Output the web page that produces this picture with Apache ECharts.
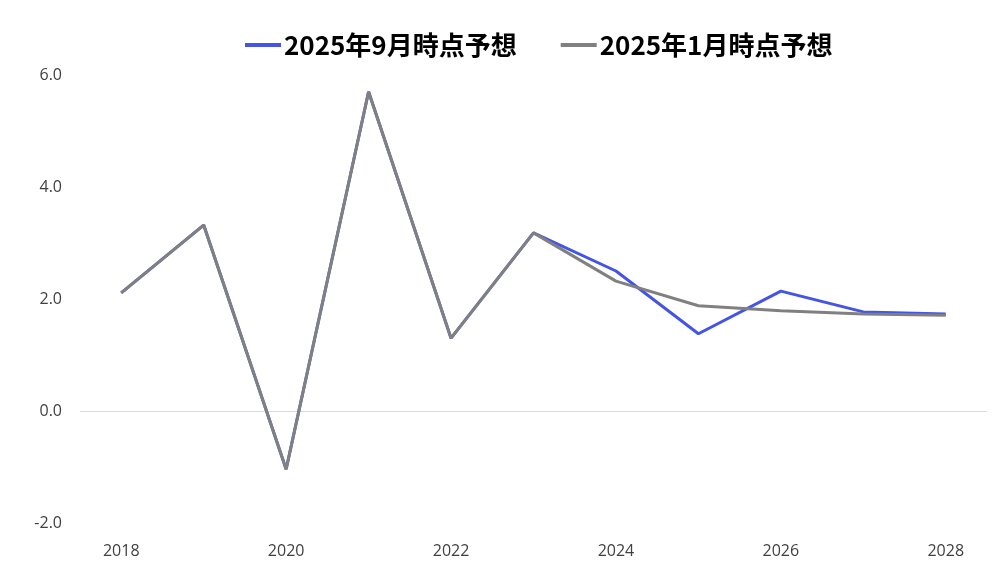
<!DOCTYPE html>
<html><head><meta charset="utf-8">
<script src="https://cdn.jsdelivr.net/npm/echarts@6/dist/echarts.min.js"></script>
<style>html,body{margin:0;padding:0;background:#fff}#c{width:1000px;height:586px}</style>
</head><body><div id="c"></div>
<script>
const years = ['2018','2019','2020','2021','2022','2023','2024','2025','2026','2027','2028'];
const sepForecast = [2.11, 3.32, -1.04, 5.70, 1.30, 3.18, 2.50, 1.38, 2.14, 1.77, 1.73];
const janForecast = [2.11, 3.32, -1.04, 5.70, 1.30, 3.18, 2.32, 1.88, 1.79, 1.73, 1.71];
const seriesNames = ['2025年9月時点予想', '2025年1月時点予想'];
const yTicks = { min: -2, max: 6, interval: 2 };

const chart = echarts.init(document.getElementById('c'), null, { renderer: 'canvas' });
const labelFont = { fontFamily: 'Open Sans, Noto Sans, sans-serif', fontSize: 16, color: '#404040' };
chart.setOption({
  animation: false,
  backgroundColor: '#fff',
  legend: {
    top: 27,
    left: 240,
    itemWidth: 36,
    itemHeight: 4,
    itemGap: 44,
    icon: 'rect',
    textStyle: { fontFamily: 'Noto Sans CJK JP', fontWeight: 'bold', fontSize: 26, color: '#000', padding: [0, 0, 0, -2] },
    data: seriesNames
  },
  grid: { left: 80, right: 13, top: 75, bottom: 63 },
  xAxis: {
    type: 'category',
    data: years,
    boundaryGap: true,
    axisLine: { show: false },
    axisTick: { show: false },
    axisLabel: Object.assign({ interval: 1, margin: 20 }, labelFont)
  },
  yAxis: {
    type: 'value',
    min: yTicks.min, max: yTicks.max, interval: yTicks.interval,
    axisLine: { show: false },
    axisTick: { show: false },
    axisLabel: Object.assign({ margin: 18, formatter: v => v.toFixed(1) }, labelFont),
    splitLine: { show: true, lineStyle: { color: ['transparent', '#d9d9d9', 'transparent', 'transparent', 'transparent'], width: 1 } }
  },
  series: [
    { name: seriesNames[0], type: 'line', data: sepForecast, symbol: 'none', z: 2,
      lineStyle: { color: '#4455e6', width: 3 }, itemStyle: { color: '#4455e6' } },
    { name: seriesNames[1], type: 'line', data: janForecast, symbol: 'none', z: 3,
      lineStyle: { color: '#808080', width: 3 }, itemStyle: { color: '#808080' } }
  ]
});
</script></body></html>
